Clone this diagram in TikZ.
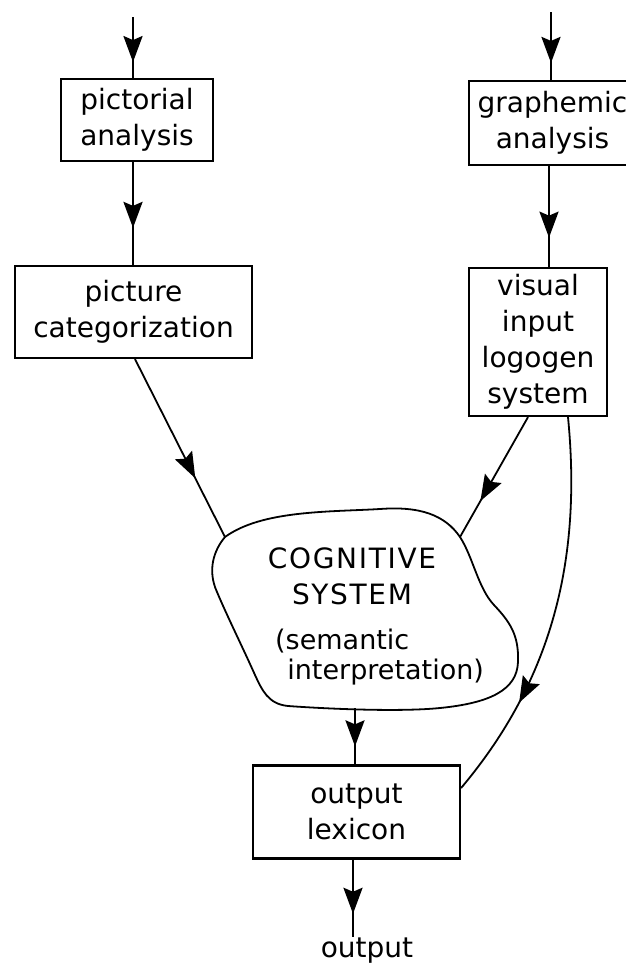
\documentclass[tikz,border=0pt]{standalone}
\usepackage{fontspec}
\setmainfont{DejaVu Sans}
\newfontfamily\capsfont[LetterSpace=6]{DejaVu Sans}
\usetikzlibrary{arrows.meta,decorations.markings,calc}
\tikzset{
  box/.style={draw, line width=2.2pt, inner sep=0pt, align=center,
    font=\fontsize{28}{36}\selectfont},
  lbl/.style={inner sep=0pt, font=\fontsize{28}{36}\selectfont},
  flow/.style={line width=2.6pt},
  thinflow/.style={line width=1.8pt},
  cloudline/.style={line width=1.8pt},
  midarrow/.style={postaction={decorate}, decoration={markings,
    mark=at position #1 with {\arrow{Stealth[length=26pt,width=19pt,inset=4pt]}}}},
}
\begin{document}
\begin{tikzpicture}[x=1pt,y=-1pt]
\useasboundingbox (0,0) rectangle (626,970);
% boxes
\node[box, minimum width=152pt, minimum height=82pt] (pa) at (137,120) {pictorial\\analysis};
\node[box, minimum width=237pt, minimum height=92pt] (pc) at (133.5,312) {picture\\categorization};
\node[box, minimum width=167pt, minimum height=84pt] (ga) at (552.5,123) {graphemic\\analysis};
\node[box, minimum width=138pt, minimum height=148pt] (vis) at (538,342) {visual\\input\\logogen\\system};
\node[box, minimum width=207pt, minimum height=93pt] (lex) at (356.5,812) {output\\lexicon};
% cloud
\draw[cloudline] (225,537)
  .. controls (262,510) and (330,512) .. (380,509)
  .. controls (420,506) and (445,515) .. (460,537)
  .. controls (473,557) and (478,588) .. (494,605)
  .. controls (510,622) and (519,635) .. (518,662)
  .. controls (517,690) and (490,703) .. (440,708)
  .. controls (400,712) and (330,709) .. (288,706)
  .. controls (268,704) and (262,690) .. (255,675)
  .. controls (243,648) and (228,618) .. (217,592)
  .. controls (207,570) and (214,550) .. (225,537) -- cycle;
\node[lbl, align=center] (cog) at (352,576) {\capsfont COGNITIVE\\\capsfont SYSTEM};
\node[lbl, align=left, anchor=west, font=\fontsize{27}{30}\selectfont] (sem) at (275,657)
  {(semantic\\\hspace*{0.45em}interpretation)};
\node[lbl] (out) at (367,951) {output};
% helper coordinates
\coordinate (inL) at (133,17);
\coordinate (inR) at (551,12);
\coordinate (xg) at (549,0);
\coordinate (xp) at (133,0);
\coordinate (x135) at (135,0);
\coordinate (x528) at (528,0);
\coordinate (x568) at (568,0);
\coordinate (cl) at (225,537);
\coordinate (cr) at (460,537);
\coordinate (cb) at (355,708);
\coordinate (oe) at (353,937);
% connectors
\draw[flow, midarrow=0.74] (inL) -- (inL |- pa.north);
\draw[flow, midarrow=0.64] (pa.south -| xp) -- (pc.north -| xp);
\draw[flow, midarrow=0.75] (inR) -- (inR |- ga.north);
\draw[flow, midarrow=0.71] (ga.south -| xg) -- (vis.north -| xg);
\draw[thinflow, midarrow=0.67] (pc.south -| x135) -- (cl);
\draw[thinflow, midarrow=0.70] (vis.south -| x528) -- (cr);
\draw[thinflow, midarrow=0.74] (vis.south -| x568) .. controls (582,560) and (552,680) .. ([yshift=24pt]lex.east);
\draw[flow, midarrow=0.68] (cb) -- (lex.north -| cb);
\draw[flow, midarrow=0.70] (lex.south -| oe) -- (oe);
\end{tikzpicture}
\end{document}
